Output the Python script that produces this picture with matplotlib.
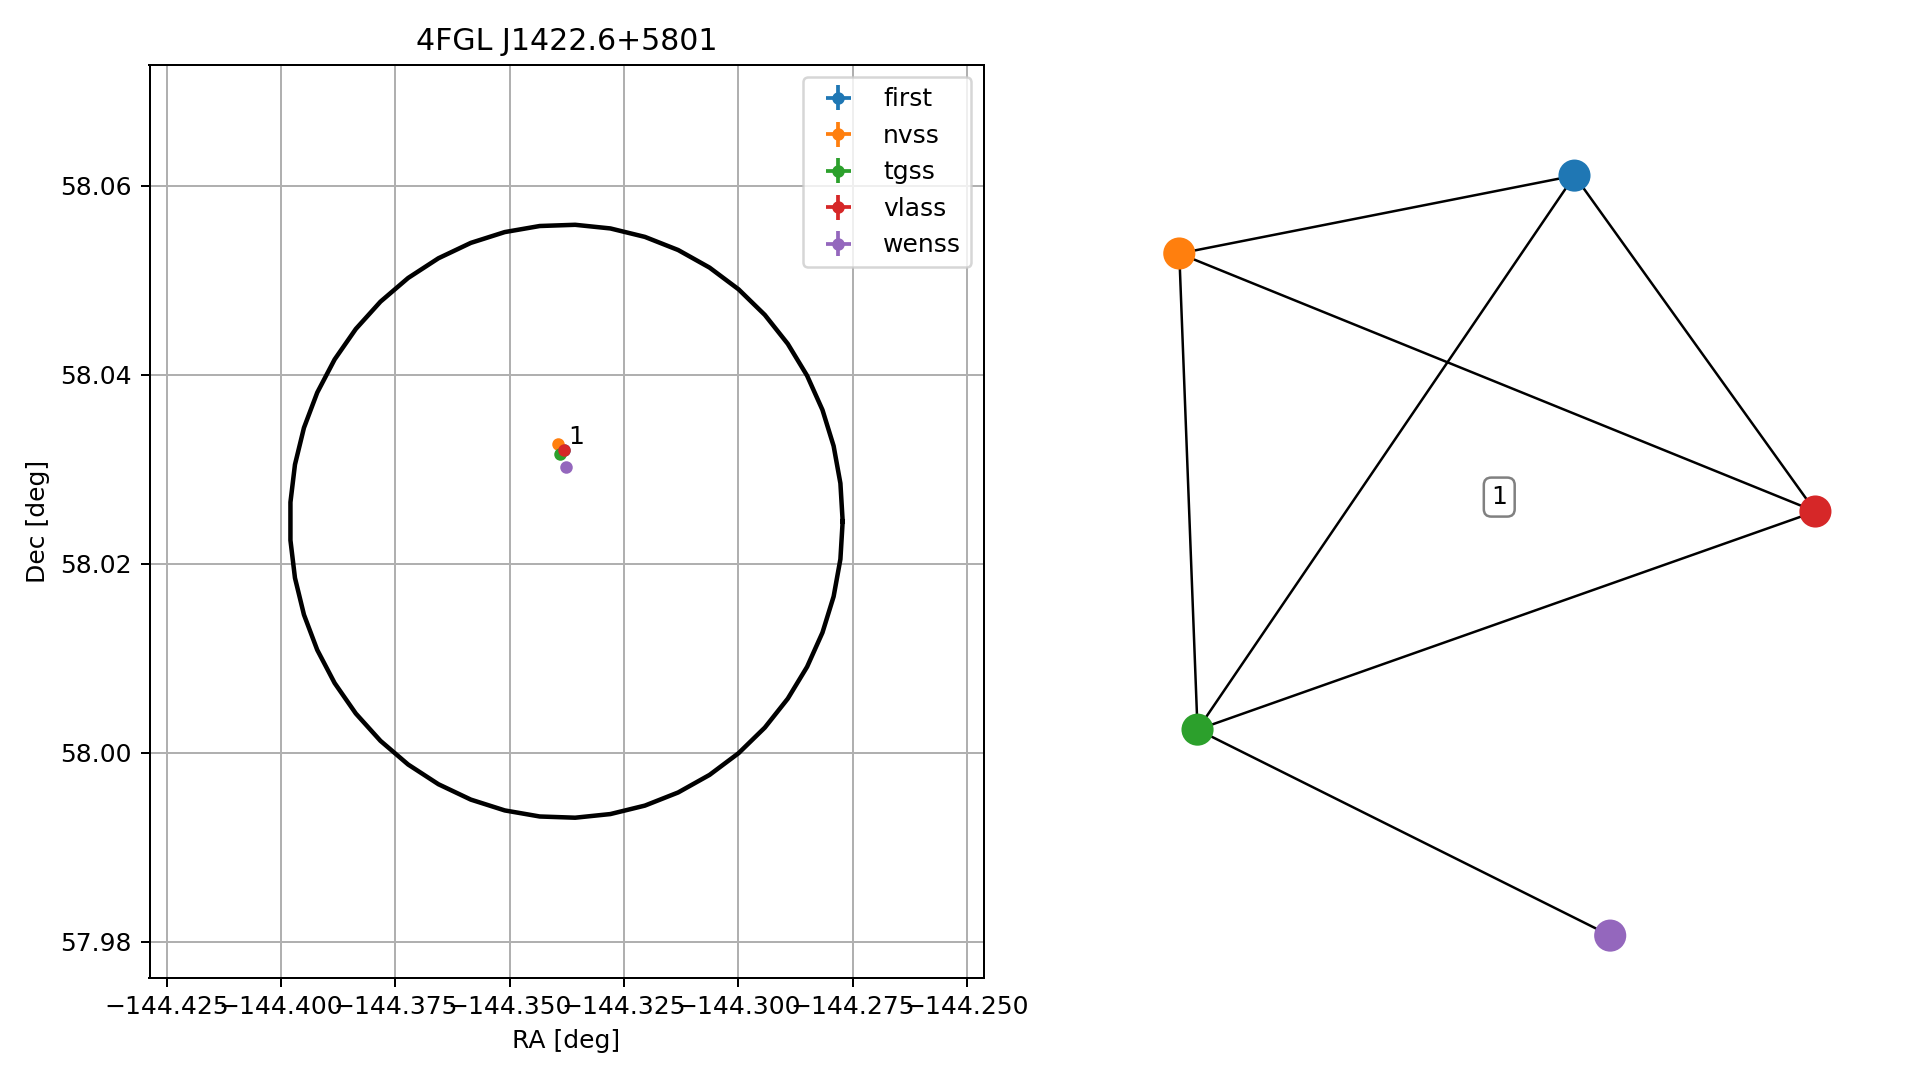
import numpy as np
import matplotlib
matplotlib.use("Agg")
import matplotlib.pyplot as plt

# ---- data: left panel (sky positions) ----
surveys = ["first", "nvss", "tgss", "vlass", "wenss"]
colors = ["#1f77b4", "#ff7f0e", "#2ca02c", "#d62728", "#9467bd"]
ra = [-144.3381, -144.33946, -144.33913, -144.33812, -144.33771]
dec = [58.0320, 58.03266, 58.03167, 58.03201, 58.03021]
ra_err = [0.0001, 0.0003, 0.0003, 0.0001, 0.0002]
dec_err = [0.0001, 0.0006, 0.0005, 0.0001, 0.0003]

title = "4FGL J1422.6+5801"
ellipse_center = (-144.33765, 58.0245)
ellipse_half_ra = 0.06045
ellipse_half_dec = 0.0314
cluster_label = "1"
cluster_label_pos = (-144.33721, 58.03272)

xlim = (-144.4288, -144.2464)
ylim = (57.9762, 58.0728)
xticks = [-144.425, -144.400, -144.375, -144.350, -144.325, -144.300, -144.275, -144.250]
yticks = [57.98, 58.00, 58.02, 58.04, 58.06]

# ---- data: right panel (graph layout) ----
node_x = [0.203, -0.837, -0.789, 0.837, 0.297]
node_y = [1.000, 0.795, -0.458, 0.116, -1.000]
edges = [(0, 1), (0, 2), (0, 3), (1, 3), (1, 2), (2, 3), (2, 4)]
graph_label_pos = (0.005, 0.154)

DPI = 180
W, H = 1919, 1080
fig = plt.figure(figsize=(W / DPI, H / DPI), dpi=DPI)

# left axes
ax = fig.add_axes([149.5 / W, 1 - 977.5 / H, (983.5 - 149.5) / W, (977.5 - 65) / H])
theta = np.linspace(0, 2 * np.pi, 50)
ax.plot(ellipse_center[0] + ellipse_half_ra * np.cos(theta),
        ellipse_center[1] + ellipse_half_dec * np.sin(theta),
        color="black", lw=1.8, zorder=2)
for s, c, x, y, xe, ye in zip(surveys, colors, ra, dec, ra_err, dec_err):
    ax.errorbar(x, y, xerr=xe, yerr=ye, fmt="o", color=c, ms=4, label=s, zorder=3)
ax.text(cluster_label_pos[0], cluster_label_pos[1], cluster_label,
        ha="left", va="baseline", fontsize=10)
ax.set_xlim(*xlim)
ax.set_ylim(*ylim)
ax.set_xticks(xticks)
ax.set_yticks(yticks)
ax.ticklabel_format(useOffset=False)
ax.grid(True)
ax.set_axisbelow(True)
ax.set_xlabel("RA [deg]")
ax.set_ylabel("Dec [deg]")
ax.set_title(title)
ax.legend(loc="upper right")

# right axes (graph)
L, R, T, B = 1030.0, 1905.0, 65.0, 977.5
cx, cy, sc = 1497.35, 555.6, 380.0
ax2 = fig.add_axes([L / W, 1 - B / H, (R - L) / W, (B - T) / H])
for i, j in edges:
    ax2.plot([node_x[i], node_x[j]], [node_y[i], node_y[j]], color="black", lw=1.0, zorder=1)
ax2.scatter(node_x, node_y, s=165, c=colors, zorder=2, linewidths=0)
ax2.text(graph_label_pos[0], graph_label_pos[1], cluster_label, ha="center", va="center",
         fontsize=10, bbox=dict(boxstyle="round", fc="white", ec="gray"))
ax2.set_xlim((L - cx) / sc, (R - cx) / sc)
ax2.set_ylim((cy - B) / sc, (cy - T) / sc)
ax2.axis("off")

fig.savefig("out.png", dpi=DPI)
